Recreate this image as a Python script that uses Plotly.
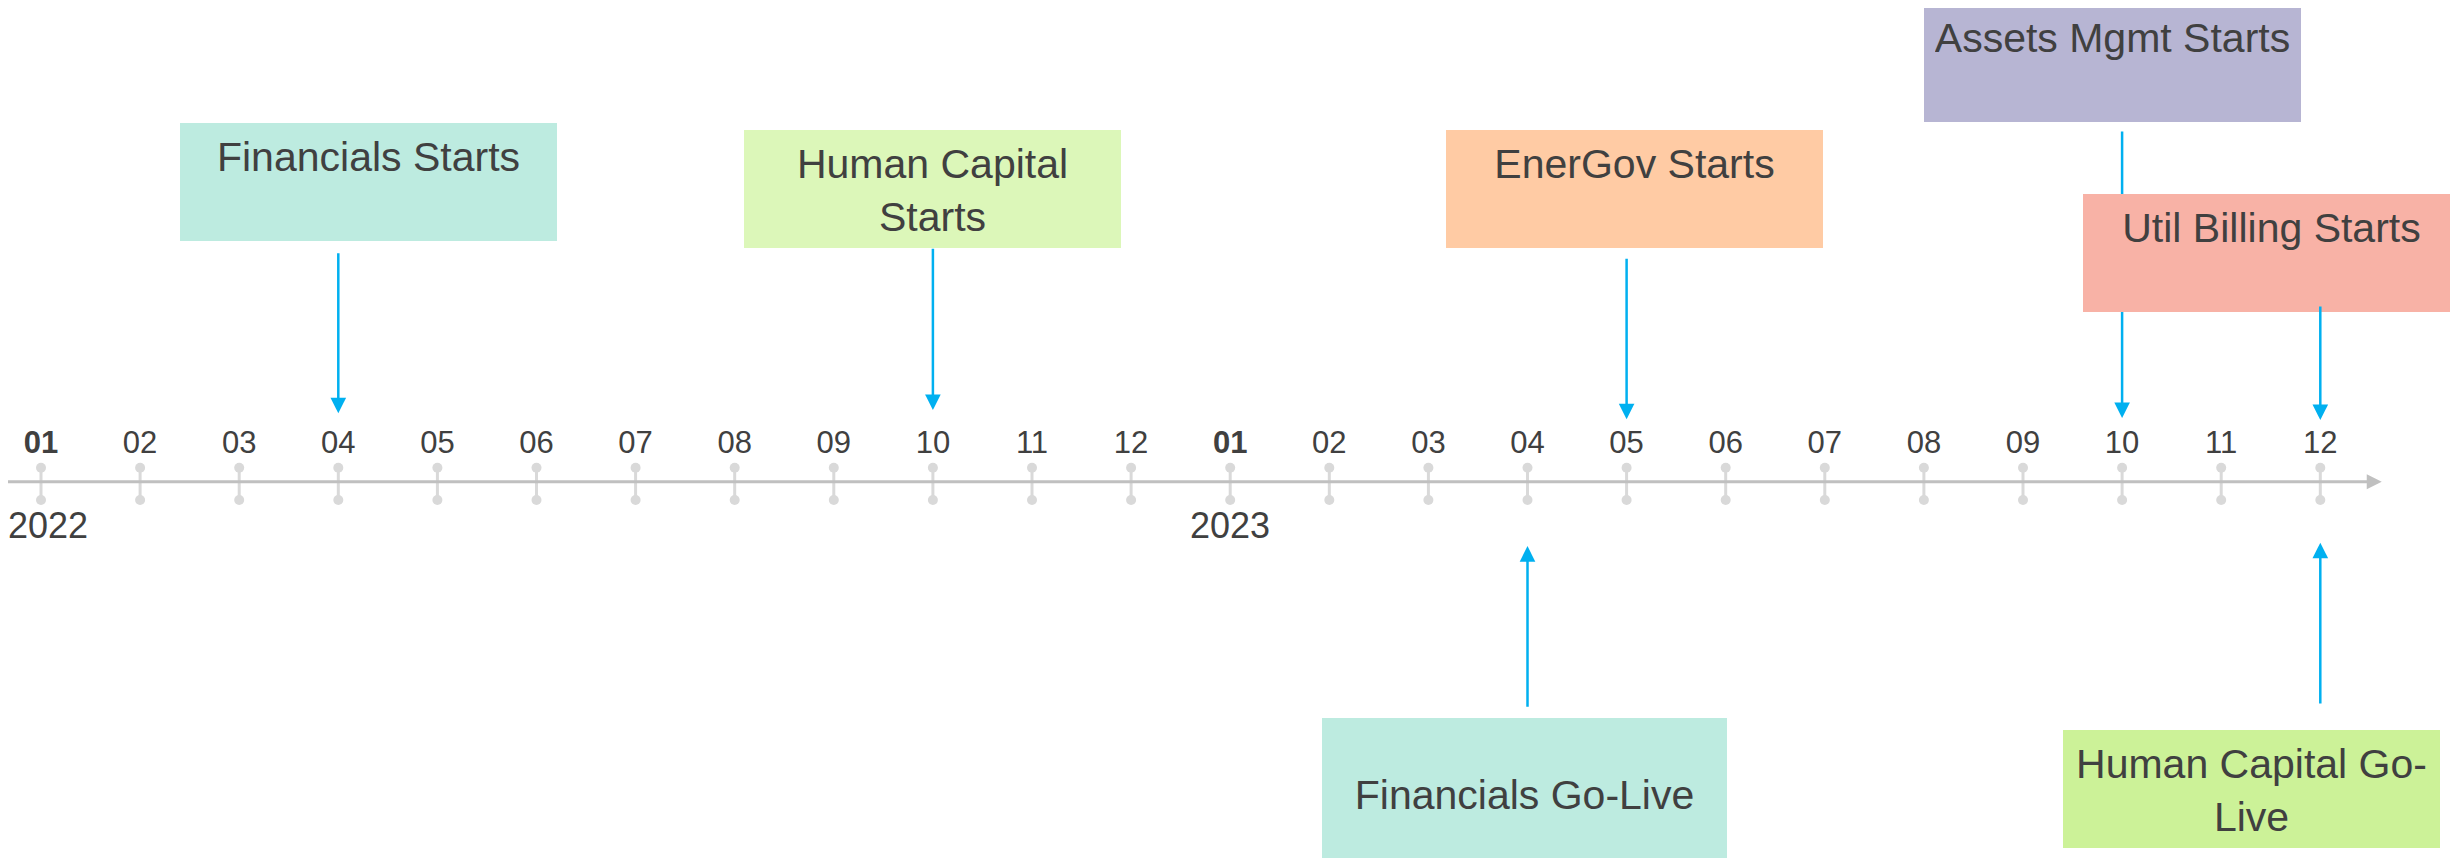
import textwrap
import plotly.graph_objects as go

# ---------------- data ----------------
months = ["2022-01", "2022-02", "2022-03", "2022-04", "2022-05", "2022-06",
          "2022-07", "2022-08", "2022-09", "2022-10", "2022-11", "2022-12",
          "2023-01", "2023-02", "2023-03", "2023-04", "2023-05", "2023-06",
          "2023-07", "2023-08", "2023-09", "2023-10", "2023-11", "2023-12"]
month_labels = ["<b>01</b>", "02", "03", "04", "05", "06", "07", "08", "09", "10", "11", "12",
                "<b>01</b>", "02", "03", "04", "05", "06", "07", "08", "09", "10", "11", "12"]
year_labels = ["2022", "2023"]
year_months = ["2022-01", "2023-01"]

event_labels = ["Financials Starts", "Human Capital Starts", "EnerGov Starts",
                "Assets Mgmt Starts", "Util Billing Starts", "Financials Go-Live",
                "Human Capital Go-Live"]
event_months = ["2022-04", "2022-10", "2023-05", "2023-10", "2023-12", "2023-04", "2023-12"]
event_colors = ["#bdebe0", "#dcf7b9", "#ffcba4", "#b7b5d3", "#f8b2a6", "#bdebe0", "#ccf298"]

# ---------------- style / layout ----------------
FONT = "Liberation Sans, Arial, sans-serif"
TEXT = "#404040"
PAGE_OFFSET = 8  # default page body margin
W, H = 2458 - PAGE_OFFSET, 858 - PAGE_OFFSET
X0_PX, STEP_PX, AXIS_PX = 41.0 - PAGE_OFFSET, 99.1, 481.7 - PAGE_OFFSET
AXIS_END = 23.62

box_y = [300.2, 293.0, 292.4, 418.4, 228.4, -313.3, -307.1]
box_xshift = [30, 0, 7.7, -9.6, -49, -3, -69]
box_w = [377, 377, 377, 377, 377, 405, 377]
box_h = [118, 118, 118, 118, 118, 154, 118]
box_valign = ["top", "top", "top", "top", "top", "middle", "top"]
wrap_chars = [20, 14, 20, 20, 20, 20, 18]
arrow_tail = [230.0, 234.4, 224.4, 351.7, 176.7, -226.6, -223.3]
arrow_tip = [68.4, 71.7, 62.4, 63.7, 61.7, -64.3, -61.0]
year_xshift = [7, 0]
PAD = 11

idx = list(range(len(months)))

fig = go.Figure()

# stems
sx, sy = [], []
for i in idx:
    sx += [i, i, None]
    sy += [14, -18.3, None]
fig.add_trace(go.Scatter(x=sx, y=sy, mode="lines",
                         line=dict(color="#d9d9d9", width=3), hoverinfo="skip"))
# dots
fig.add_trace(go.Scatter(x=idx + idx, y=[14] * len(idx) + [-18.3] * len(idx), mode="markers",
                         marker=dict(color="#d9d9d9", size=10), hoverinfo="skip"))
# month labels
fig.add_trace(go.Scatter(x=idx, y=[36.7] * len(idx), mode="text", text=month_labels,
                         textposition="middle center",
                         textfont=dict(family=FONT, size=31, color=TEXT), hoverinfo="skip"))

annotations = []
# year labels
for k, yl in enumerate(year_labels):
    annotations.append(dict(x=months.index(year_months[k]), y=-44.1, xref="x", yref="y",
                            text=yl, showarrow=False, xanchor="center", yanchor="middle",
                            xshift=year_xshift[k], borderpad=0,
                            font=dict(family=FONT, size=36, color=TEXT)))
# main axis line with arrow head
annotations.append(dict(x=AXIS_END, y=0, ax=-0.45, ay=0,
                        xref="x", yref="y", axref="x", ayref="y", text="",
                        showarrow=True, arrowhead=2, arrowsize=1, arrowwidth=3,
                        arrowcolor="#c0c0c0", standoff=0, startstandoff=0))

for k, lab in enumerate(event_labels):
    xi = months.index(event_months[k])
    txt = "<br>".join(textwrap.wrap(lab, wrap_chars[k]))
    annotations.append(dict(x=xi, y=box_y[k], xref="x", yref="y", xshift=box_xshift[k],
                            text=txt, showarrow=False, xanchor="center", yanchor="middle",
                            width=box_w[k] - 2 * PAD, height=box_h[k] - 2 * PAD,
                            bgcolor=event_colors[k], borderwidth=0, borderpad=PAD,
                            align="center", valign=box_valign[k],
                            font=dict(family=FONT, size=41, color=TEXT)))
    annotations.append(dict(x=xi, y=arrow_tip[k], ax=xi, ay=arrow_tail[k],
                            xref="x", yref="y", axref="x", ayref="y", text="",
                            showarrow=True, arrowhead=2, arrowsize=1.25, arrowwidth=2.5,
                            arrowcolor="#00b0f0", standoff=0, startstandoff=0))

fig.update_layout(
    width=W, height=H, margin=dict(l=0, r=0, t=0, b=0),
    paper_bgcolor="white", plot_bgcolor="white", showlegend=False,
    xaxis=dict(visible=False, range=[-X0_PX / STEP_PX, (W - X0_PX) / STEP_PX], fixedrange=True),
    yaxis=dict(visible=False, range=[AXIS_PX - H, AXIS_PX], fixedrange=True),
    annotations=annotations,
)

fig.write_html("out.html", config={"displayModeBar": False})
